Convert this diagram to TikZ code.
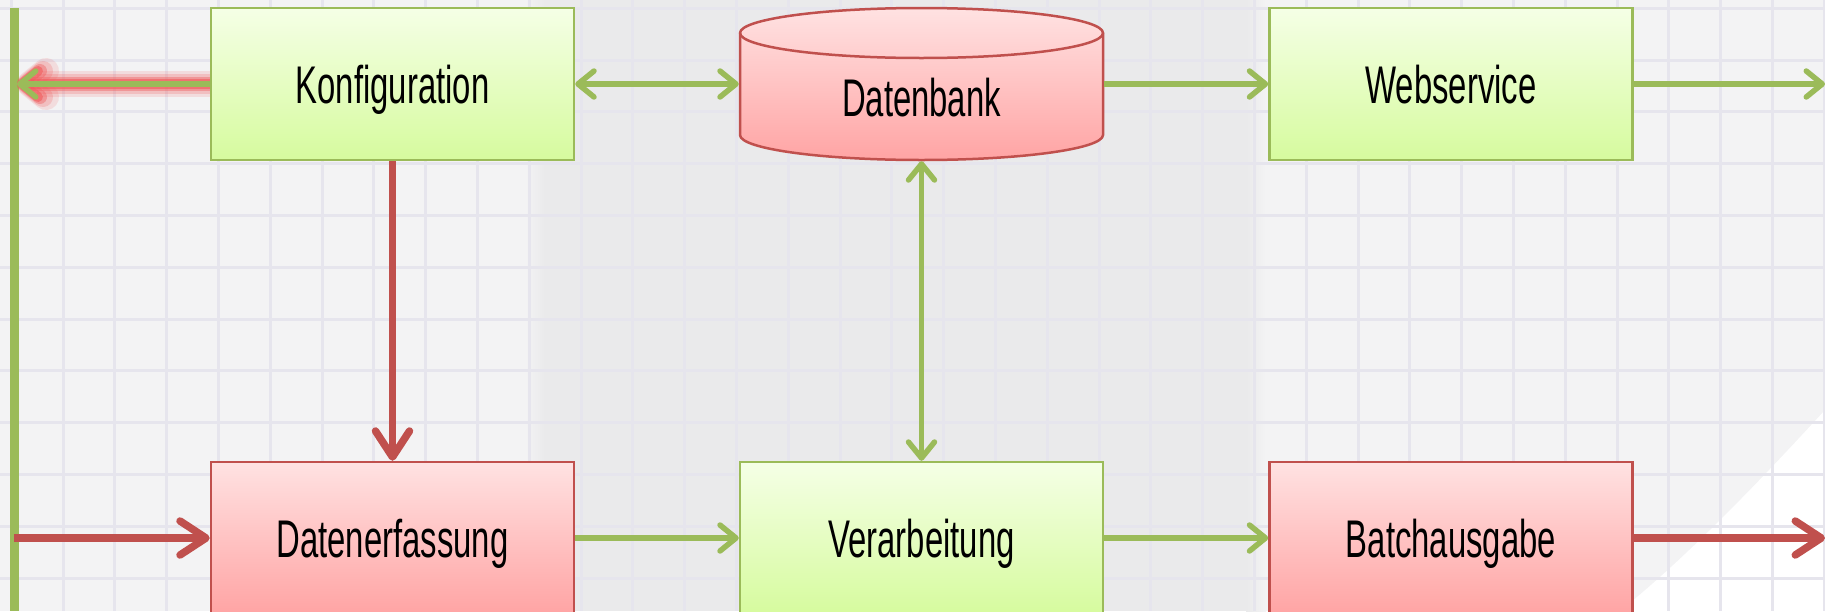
\documentclass[tikz,border=0pt]{standalone}
\usepackage{fontspec}
\newfontfamily\agency{Liberation Sans}[FakeStretch=0.62]
\usetikzlibrary{arrows.meta}
\definecolor{grn}{HTML}{9BBB59}
\definecolor{rd}{HTML}{C0504D}
\definecolor{bg}{HTML}{F3F3F4}
\definecolor{band}{HTML}{EAEAEB}
\definecolor{gridc}{HTML}{E6E5ED}
\definecolor{gtop}{HTML}{F5FFE6}
\definecolor{gbot}{HTML}{D6FB9E}
\definecolor{rtop}{HTML}{FFE2E2}
\definecolor{rbot}{HTML}{FFA4A4}
\definecolor{glowc}{HTML}{F05A5A}
\begin{document}
\begin{tikzpicture}[x=1pt,y=-1pt,
  box/.style={rectangle, line width=2.5pt, minimum width=363pt, minimum height=152pt,
    inner sep=0pt, font=\agency\fontsize{53pt}{60pt}\selectfont,
    text height=38pt, text depth=0pt},
  gbox/.style={box, draw=grn, top color=gtop, bottom color=gbot},
  rbox/.style={box, draw=rd, top color=rtop, bottom color=rbot},
  dbbox/.style={box, draw=none},
  gtip/.tip={Straight Barb[length=16pt,width=26pt,round]},
  rtip/.tip={Straight Barb[length=26pt,width=34pt,round]},
  gline/.style={draw=grn, line width=5.5pt},
  rline/.style={draw=rd, line width=7.5pt},
  gridline/.style={draw=gridc, line width=3pt},
  glowline/.style={draw=glowc, -{Straight Barb[length=16pt,width=26pt,round]}}
]
\useasboundingbox (0,0) rectangle (1825,611);
\clip (0,0) rectangle (1825,611);
% background
\fill[bg] (0,0) rectangle (1825,611);
\fill[band] (545,0) rectangle (1246,611);
\shade[left color=bg, right color=band] (525,0) rectangle (545,611);
\shade[left color=band, right color=bg] (1246,0) rectangle (1266,611);
\fill[white] (1825,410) .. controls (1770,470) and (1690,555) .. (1620,611) -- (1825,611) -- cycle;
\foreach \i in {0,...,35} \draw[gridline] ({11.3+51.8*\i},0) -- ({11.3+51.8*\i},611);
\foreach \j in {0,...,11} \draw[gridline] (0,{8.3+51.8*\j}) -- (1825,{8.3+51.8*\j});
% left bar
\draw[grn, line width=9pt] (14.5,8) -- (14.5,611);
\coordinate (L1) at (17,84);
\coordinate (L2) at (14,538);
\coordinate (R1) at (1825,84);
\coordinate (R2) at (1825,538);
% cylinder
\shade[top color=rtop, bottom color=rbot, draw=rd, line width=2.5pt]
  (740,33) -- (740,135) arc (180:360:181.5pt and 25pt) -- (1103,33)
  arc (0:180:181.5pt and 25pt) -- cycle;
\draw[rd, line width=2.5pt] (740,33) arc (180:360:181.5pt and 25pt);
% nodes
\node[gbox] (konf) at (392.5,84) {Konfiguration};
\node[dbbox] (db) at (921.5,84) {\raisebox{-13.5pt}{Datenbank}};
\node[gbox] (web) at (1451,84) {Webservice};
\node[rbox] (erf) at (392.5,538) {Datenerfassung};
\node[gbox] (verarb) at (921.5,538) {Verarbeitung};
\node[rbox] (batch) at (1451,538) {Batchausgabe};
% connectors
\foreach \w/\o in {26/0.15, 20/0.22, 14/0.4, 10/0.6}
  \draw[glowline, line width=\w pt, opacity=\o] (konf.west) -- (L1);
\draw[gline, -gtip] (konf.west) -- (L1);
\draw[gline, gtip-gtip] (konf.east) -- (db.west);
\draw[gline, -gtip] (db.east) -- (web.west);
\draw[gline, -gtip] (web.east) -- (R1);
\draw[rline, -rtip] (konf.south) -- (erf.north);
\draw[gline, gtip-gtip] (db.south) -- (verarb.north);
\draw[rline, -rtip] (L2) -- (erf.west);
\draw[gline, -gtip] (erf.east) -- (verarb.west);
\draw[gline, -gtip] (verarb.east) -- (batch.west);
\draw[rline, -rtip] (batch.east) -- (R2);
\end{tikzpicture}
\end{document}
